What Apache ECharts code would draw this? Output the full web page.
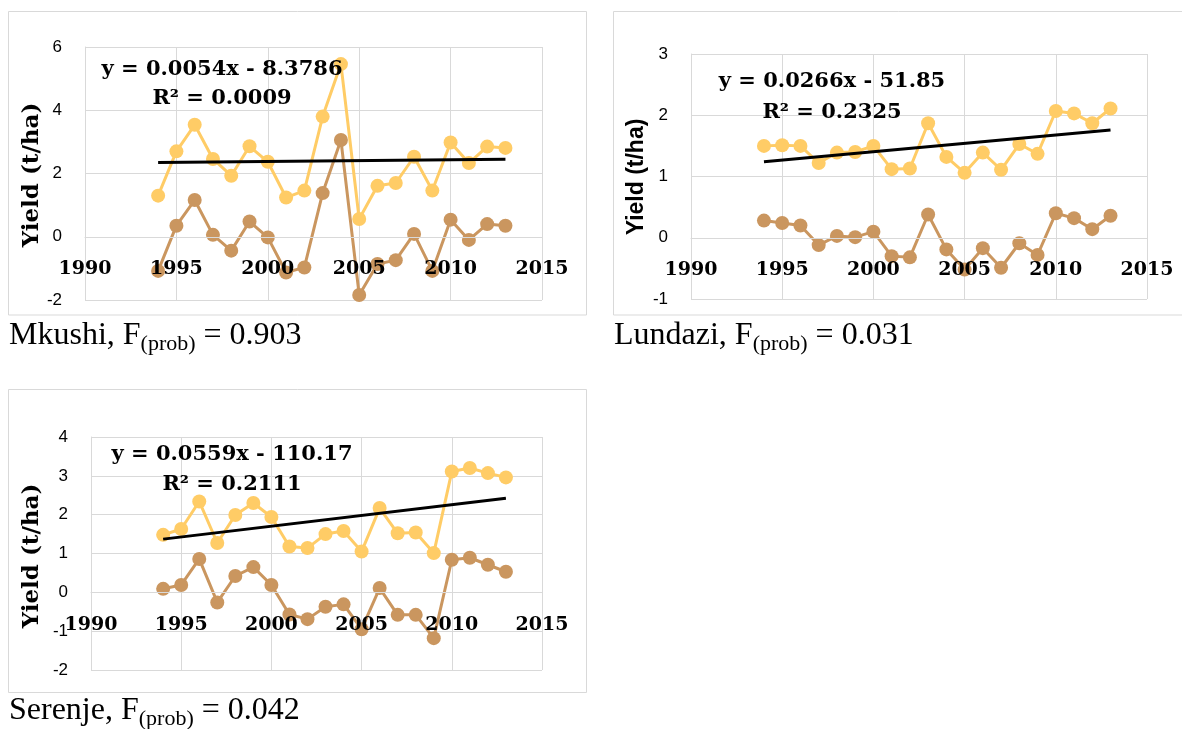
<!DOCTYPE html>
<html><head><meta charset="utf-8">
<script src="https://cdn.jsdelivr.net/npm/echarts@6/dist/echarts.min.js"></script>
<style>html,body{margin:0;padding:0;background:#fff}#c{width:1182px;height:729px}</style>
</head><body><div id="c"></div>
<script>
// ---- data ----
const years = [1994,1995,1996,1997,1998,1999,2000,2001,2002,2003,2004,2005,2006,2007,2008,2009,2010,2011,2012,2013];

const mkushiYellow = [1.30,2.70,3.54,2.46,1.93,2.86,2.37,1.24,1.46,3.80,5.46,0.56,1.61,1.70,2.53,1.46,2.98,2.33,2.85,2.81];
const mkushiBrown  = [-1.08,0.35,1.16,0.06,-0.44,0.48,-0.02,-1.13,-0.97,1.38,3.06,-1.84,-0.86,-0.74,0.09,-1.08,0.54,-0.10,0.40,0.35];
const mkushiTrend  = [2.35,2.45];

const lundaziYellow = [1.50,1.51,1.50,1.22,1.39,1.40,1.50,1.12,1.13,1.87,1.32,1.06,1.39,1.11,1.53,1.37,2.07,2.03,1.87,2.11];
const lundaziBrown  = [0.28,0.24,0.20,-0.12,0.03,0.01,0.10,-0.30,-0.32,0.38,-0.19,-0.52,-0.17,-0.49,-0.09,-0.28,0.40,0.32,0.14,0.36];
const lundaziTrend  = [1.24,1.76];

const serenjeYellow = [1.48,1.63,2.34,1.27,1.99,2.30,1.94,1.18,1.14,1.50,1.58,1.05,2.17,1.52,1.54,1.01,3.11,3.20,3.07,2.96];
const serenjeBrown  = [0.09,0.19,0.86,-0.26,0.42,0.65,0.19,-0.57,-0.69,-0.37,-0.31,-0.95,0.11,-0.58,-0.58,-1.18,0.84,0.89,0.71,0.53];
const serenjeTrend  = [1.37,2.42];

const trendYears = [1994, 2013];

const equations = ['y = 0.0054x - 8.3786', 'y = 0.0266x - 51.85', 'y = 0.0559x - 110.17'];
const rSquared  = ['R² = 0.0009', 'R² = 0.2325', 'R² = 0.2111'];
const places    = ['Mkushi', 'Lundazi', 'Serenje'];
const fProb     = ['0.903', '0.031', '0.042'];
const yAxisTitle = 'Yield (t/ha)';

const yMin = [-2, -1, -2];
const yMax = [6, 3, 4];
const yStep = [2, 1, 1];
const xMin = 1990, xMax = 2015, xStep = 5;
const xCross = 0; // x axis crosses the value axis at 0

// ---- layout / style ----
const YELLOW = '#FFCC66', BROWN = '#CA965F', GRID = '#d9d9d9';
const grids = [
  {left: 85, top: 47, width: 457, height: 253},
  {left: 691, top: 54, width: 456, height: 245},
  {left: 91, top: 437, width: 451, height: 233}
];
const panels = [
  {x: 8.5, y: 11.5, w: 578, h: 303.5},
  {x: 613.5, y: 11.5, w: 600, h: 303.5},
  {x: 8.5, y: 389.5, w: 578, h: 303}
];
const eqPos = [
  {x: 222, y1: 70, y2: 98.5},
  {x: 832, y1: 82, y2: 113},
  {x: 232, y1: 455, y2: 485}
];
const titlePos = [
  {x: 32, y: 175, font: 'bold 23px "DejaVu Serif"'},
  {x: 637, y: 177, font: 'bold 23px "Liberation Sans"'},
  {x: 32, y: 556, font: 'bold 23px "DejaVu Serif"'}
];
const capPos = [{x: 9, y: 336}, {x: 614, y: 336}, {x: 9, y: 711}];

const yellowSets = [mkushiYellow, lundaziYellow, serenjeYellow];
const brownSets = [mkushiBrown, lundaziBrown, serenjeBrown];
const trendSets = [mkushiTrend, lundaziTrend, serenjeTrend];

const xAxes = [], yAxes = [], series = [], graphic = [];
grids.forEach((g, i) => {
  // shift the label axis from the bottom edge up to the value-axis crossing (0)
  const crossOffset = -g.height * (xCross - yMin[i]) / (yMax[i] - yMin[i]);
  xAxes.push({
    type: 'value', gridIndex: i, min: xMin, max: xMax, interval: xStep, position: 'bottom', z: 10,
    offset: crossOffset,
    axisLine: {show: true, onZero: false, lineStyle: {color: GRID, width: 1}},
    axisTick: {show: false}, splitLine: {show: false},
    axisLabel: {fontFamily: 'DejaVu Serif', fontWeight: 'bold', fontSize: 19, color: '#000', margin: 23,
      formatter: v => String(v)}
  });
  xAxes.push({
    type: 'value', gridIndex: i, min: xMin, max: xMax, interval: xStep, position: 'top', z: 0,
    axisLine: {show: false, onZero: false}, axisTick: {show: false}, axisLabel: {show: false},
    splitLine: {show: true, lineStyle: {color: GRID, width: 1}}
  });
  yAxes.push({
    type: 'value', gridIndex: i, min: yMin[i], max: yMax[i], interval: yStep[i],
    axisLine: {show: true, onZero: false, lineStyle: {color: GRID, width: 1}},
    axisTick: {show: false},
    splitLine: {show: true, lineStyle: {color: GRID, width: 1}},
    axisLabel: {fontFamily: 'Liberation Sans', fontSize: 17, color: '#000', margin: 23}
  });
  const mk = (vals, color) => ({
    type: 'line', xAxisIndex: 2 * i, yAxisIndex: i,
    data: years.map((y, k) => [y, vals[k]]),
    symbol: 'circle', symbolSize: 14, showSymbol: true,
    lineStyle: {color: color, width: 3}, itemStyle: {color: color}
  });
  series.push(mk(brownSets[i], BROWN));
  series.push(mk(yellowSets[i], YELLOW));
  series.push({
    type: 'line', xAxisIndex: 2 * i, yAxisIndex: i, z: 5,
    data: trendYears.map((y, k) => [y, trendSets[i][k]]),
    symbol: 'none', lineStyle: {color: '#000', width: 3}
  });
  const p = panels[i];
  graphic.push({type: 'rect', z: -10, shape: {x: p.x, y: p.y, width: p.w, height: p.h},
    style: {fill: 'none', stroke: GRID, lineWidth: 1}});
  const e = eqPos[i];
  graphic.push({type: 'text', z: 100, x: e.x, y: e.y1,
    style: {text: equations[i], font: 'bold 21px "DejaVu Serif"', fill: '#000', align: 'center', verticalAlign: 'middle'}});
  graphic.push({type: 'text', z: 100, x: e.x, y: e.y2,
    style: {text: rSquared[i], font: 'bold 21px "DejaVu Serif"', fill: '#000', align: 'center', verticalAlign: 'middle'}});
  const t = titlePos[i];
  graphic.push({type: 'text', z: 100, x: t.x, y: t.y, rotation: Math.PI / 2,
    style: {text: yAxisTitle, font: t.font, fill: '#000', align: 'center', verticalAlign: 'middle'}});
  const c = capPos[i];
  graphic.push({type: 'text', z: 100, x: c.x, y: c.y,
    style: {
      text: '{m|' + places[i] + ', F}{s|(prob)}{m| = ' + fProb[i] + '}',
      align: 'left', verticalAlign: 'middle',
      rich: {
        m: {fontFamily: 'Liberation Serif', fontSize: 32, lineHeight: 38, fill: '#000', color: '#000'},
        s: {fontFamily: 'Liberation Serif', fontSize: 22, lineHeight: 38, verticalAlign: 'bottom', fill: '#000', color: '#000'}
      }
    }});
});

const chart = echarts.init(document.getElementById('c'), null, {renderer: 'canvas'});
chart.setOption({
  animation: false,
  backgroundColor: '#fff',
  grid: grids,
  xAxis: xAxes,
  yAxis: yAxes,
  series: series,
  graphic: graphic
});
</script>
</body></html>
